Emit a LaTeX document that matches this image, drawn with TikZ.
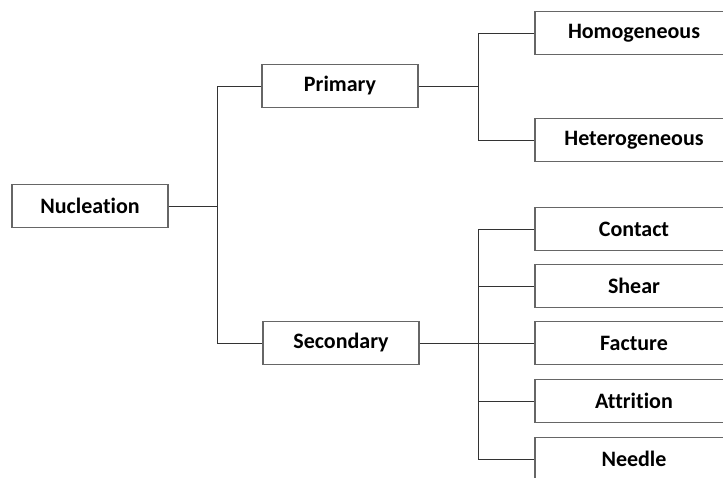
\documentclass[tikz,border=0pt]{standalone}
\usepackage{fontspec}
\setmainfont{Carlito}[Ligatures=NoCommon]
\usepackage{tikz}
\usetikzlibrary{positioning}
\tikzset{
	box/.style={rectangle, minimum width=156pt, minimum height=43pt, inner sep=0pt, text centered, draw=black!60, line width=1.1pt, font=\bfseries\fontsize{22}{26}\selectfont},
	leaf/.style={box, minimum width=198pt},
	link/.style={draw=black!80, line width=0.9pt}
}

\begin{document}
\begin{tikzpicture}[x=1pt, y=-1pt]
		% Area visivel
		\useasboundingbox (0,0) rectangle (723,477);
		\clip (0,0) rectangle (723,477);
		
		% Colunas dos ramos
		\coordinate (trunk) at (217,0);
		\coordinate (branch) at (478,0);
		
		% Caixas
		\node[box] (nuc) at (90,206) {Nucleation};
		\node[box] (prim) at (340,86) {Primary};
		\node[box] (sec) at (341,343) {Secondary};
		
		\node[leaf] (homo) at (634,33) {Homogeneous};
		\node[leaf] (hetero) at (634,140) {Heterogeneous};
		
		\node[leaf] (contact) at (634,229) {Contact};
		\node[leaf] (shear) at (634,286) {Shear};
		\node[leaf] (facture) at (634,343) {Facture};
		\node[leaf] (attrition) at (634,401) {Attrition};
		\node[leaf] (needle) at (634,459) {Needle};
		
		% Ligacoes
		\draw[link] (nuc.east) -- (nuc.east -| trunk);
		\draw[link] (prim.west) -- (prim.west -| trunk) -- (sec.west -| trunk) -- (sec.west);
		
		\draw[link] (prim.east) -- (prim.east -| branch);
		\draw[link] (homo.west) -- (homo.west -| branch) -- (hetero.west -| branch) -- (hetero.west);
		
		\draw[link] (sec.east) -- (facture.west);
		\draw[link] (contact.west) -- (contact.west -| branch) -- (needle.west -| branch) -- (needle.west);
		\foreach \n in {shear, attrition}
			\draw[link] (\n.west -| branch) -- (\n.west);
		
	\end{tikzpicture}
\end{document}
